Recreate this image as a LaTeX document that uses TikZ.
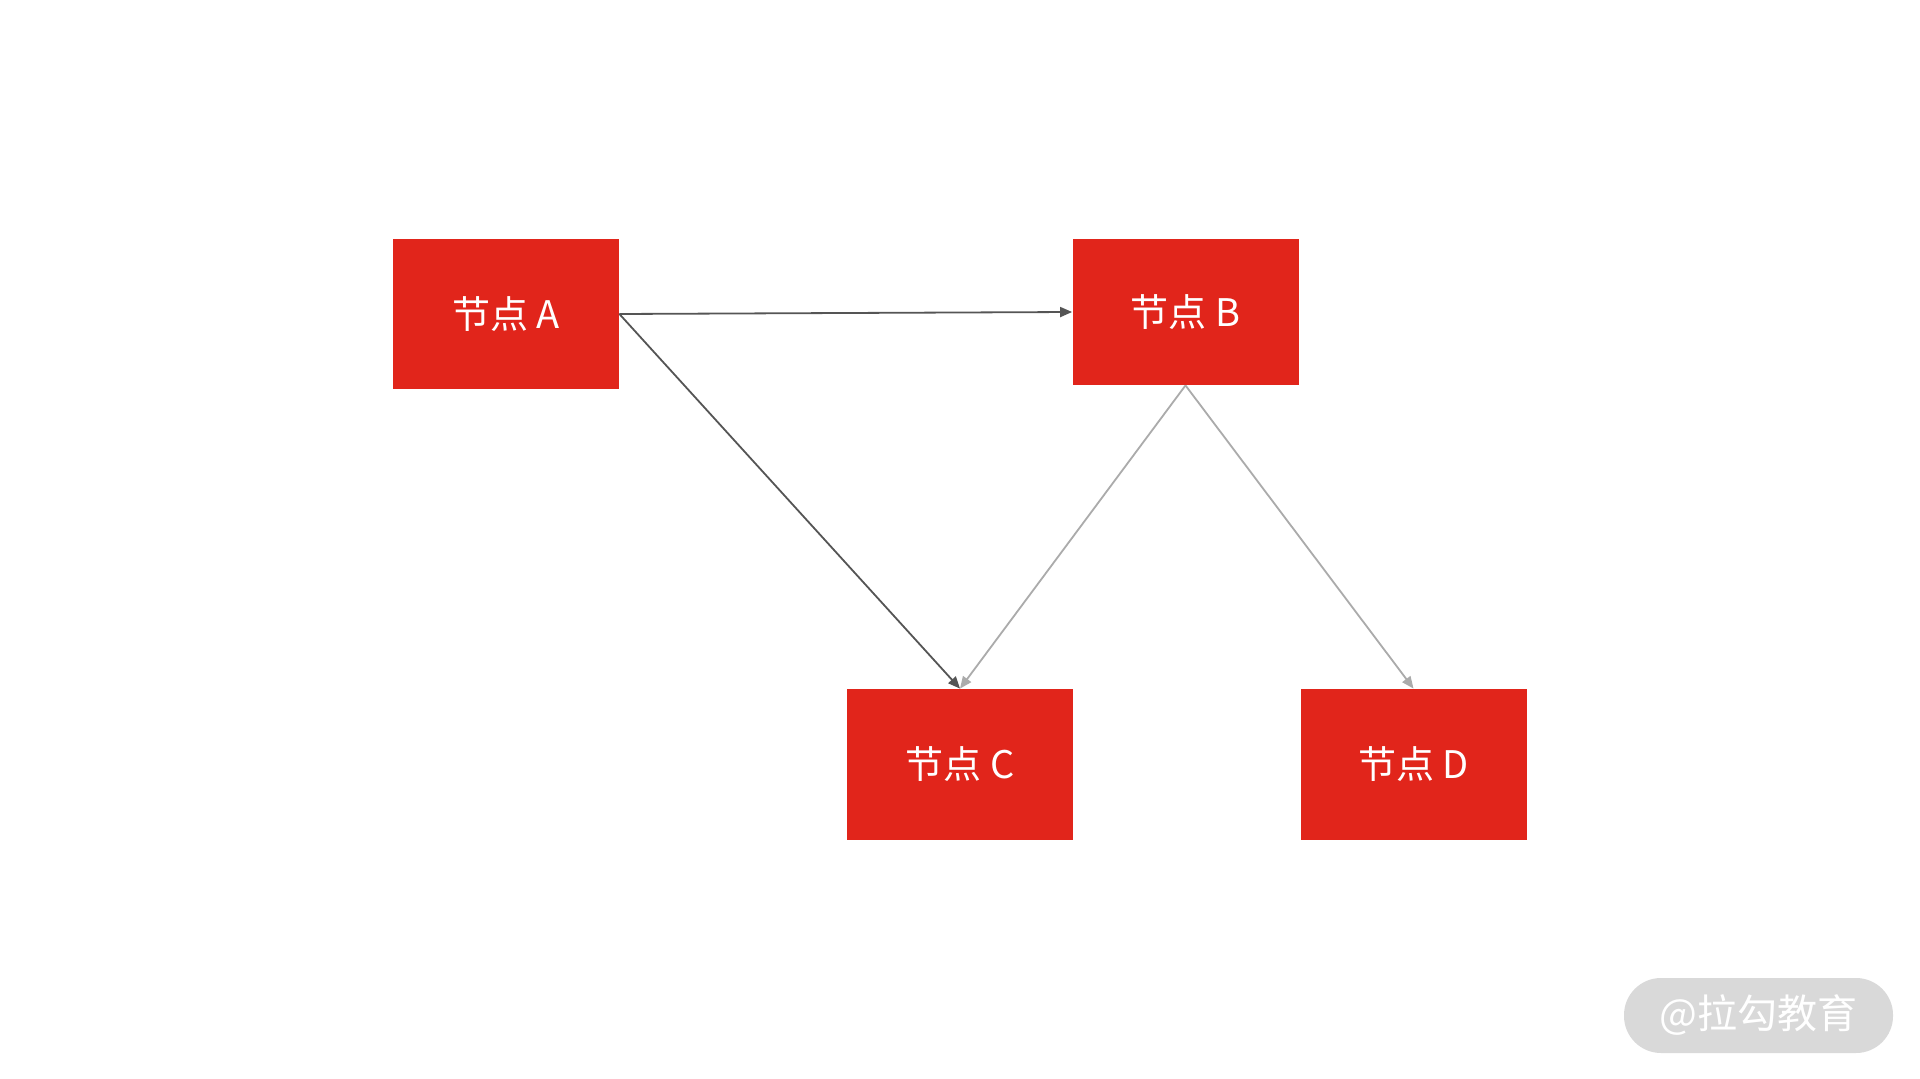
\documentclass[tikz,border=0pt]{standalone}
\usepackage{fontspec}
\setmainfont{Noto Sans CJK SC}
\usetikzlibrary{arrows.meta}
\definecolor{boxred}{HTML}{E1251B}
\definecolor{darkline}{HTML}{555555}
\definecolor{lightline}{HTML}{ABABAB}
\definecolor{wmgray}{HTML}{D9D9D9}
\tikzset{
  nodebox/.style={fill=boxred, draw=none, minimum width=113pt, minimum height=75pt, inner sep=0pt, text=white, font=\fontsize{19pt}{21pt}\selectfont},
  darkarrow/.style={draw=darkline, line width=0.9pt, -{Triangle[length=6pt,width=5pt]}},
  lightarrow/.style={draw=lightline, line width=0.9pt, -{Triangle[length=6pt,width=5pt]}},
}
\begin{document}
\begin{tikzpicture}[x=0.5pt,y=-0.5pt]
\useasboundingbox[fill=white] (0,0) rectangle (1920,1079);
\node[nodebox] (A) at (506,314) {节点 A};
\node[nodebox, minimum height=73pt] (B) at (1185.5,312) {节点 B};
\node[nodebox, minimum height=75.5pt] (C) at (960,764.5) {节点 C};
\node[nodebox, minimum height=75.5pt] (D) at (1413.5,764.5) {节点 D};
\draw[darkarrow] (A.east) -- (B.west);
\draw[darkarrow] (A.east) -- (C.north);
\draw[lightarrow] (B.south) -- (C.north);
\draw[lightarrow] (B.south) -- (D.north);
\node[fill=wmgray, rounded corners=18.5pt, minimum width=134.5pt, minimum height=37.5pt, inner sep=0pt, text=white, font=\fontsize{20pt}{22pt}\selectfont] (wm) at (1758.5,1015.5) {@拉勾教育};
\end{tikzpicture}
\end{document}
